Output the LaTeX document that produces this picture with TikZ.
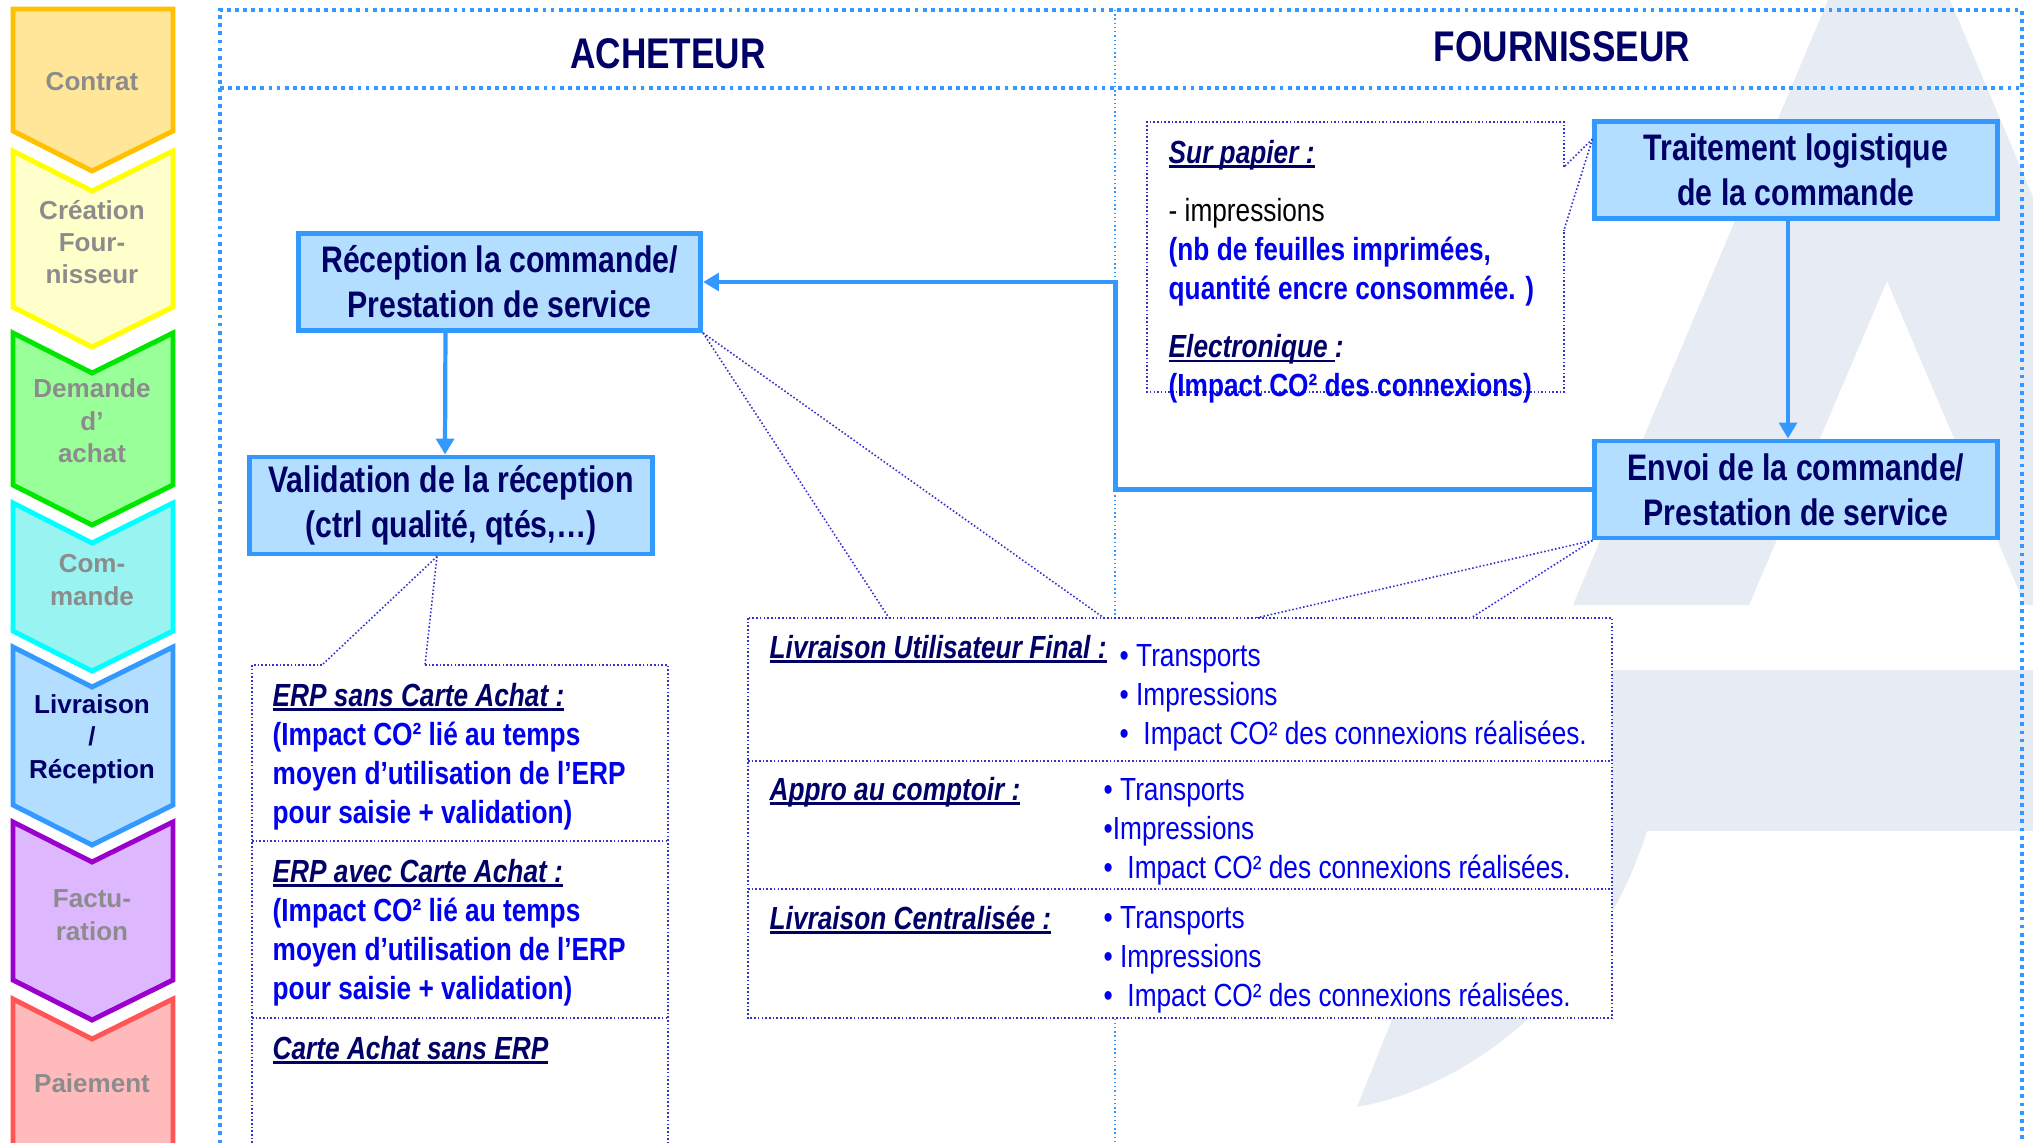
\documentclass[tikz,border=0pt]{standalone}
\usepackage{fontspec}
\setmainfont{Liberation Sans}
\newfontfamily\narrowfont[FakeStretch=0.82]{Liberation Sans}
\usetikzlibrary{arrows.meta}
\definecolor{navy}{HTML}{000066}
\definecolor{skyfill}{HTML}{B3DEFF}
\definecolor{skyline}{HTML}{3399FF}
\definecolor{inkblue}{HTML}{0000EE}
\definecolor{callout}{HTML}{3333CC}
\definecolor{logo}{HTML}{E7ECF4}
\definecolor{greytext}{HTML}{8C8C8C}
\definecolor{contratfill}{HTML}{FFE699}
\definecolor{contratline}{HTML}{FFC000}
\definecolor{creafill}{HTML}{FFFFCC}
\definecolor{crealine}{HTML}{FFFF00}
\definecolor{demfill}{HTML}{99FF99}
\definecolor{demline}{HTML}{00E600}
\definecolor{cmdfill}{HTML}{99F3F0}
\definecolor{cmdline}{HTML}{00FFFF}
\definecolor{factfill}{HTML}{DDB8FF}
\definecolor{factline}{HTML}{9900CC}
\definecolor{paiefill}{HTML}{FFBBBB}
\definecolor{paieline}{HTML}{FF5555}
\newcommand\ulbox[1]{\setbox0=\hbox{#1}\rlap{\rule[-1.3pt]{\wd0}{0.8pt}}\box0}
\newcommand\notehead[1]{{\color{navy}\bfseries\itshape\ulbox{#1}}}
\newcommand\noteblue[1]{{\color{inkblue}\bfseries #1}}
\tikzset{frame/.style={skyline, line width=1.1pt, dash pattern=on 1.1pt off 1.2pt}}
\tikzset{divider/.style={skyline, line width=0.4pt, dash pattern=on 0.4pt off 0.8pt}}
\tikzset{stepbox/.style={draw=skyline, fill=skyfill, line width=1.4pt, minimum width=4.02cm, minimum height=0.97cm, inner sep=0pt, align=center, text=navy, font=\narrowfont\bfseries\fontsize{10.5}{12.8}\selectfont}}
\tikzset{flow/.style={skyline, line width=1.2pt, -{Triangle[length=4.5pt,width=5pt]}}}
\tikzset{note/.style={callout, line width=0.45pt, dash pattern=on 0.45pt off 0.6pt}}
\tikzset{chev/.style={line width=1.4pt}}
\tikzset{phase/.style={align=center, text=greytext, font=\bfseries\fontsize{7.4}{9.2}\selectfont}}
\tikzset{notetext/.style={anchor=west, align=left, inner sep=0pt, font=\narrowfont\fontsize{9.1}{11.1}\selectfont}}
\tikzset{listtext/.style={notetext, text=inkblue}}
\tikzset{head/.style={text=navy, font=\narrowfont\bfseries\fontsize{12.2}{14}\selectfont}}

\begin{document}
\begin{tikzpicture}[x=0.01cm, y=-0.01cm]
\useasboundingbox (0,0) rectangle (2033,1143);
\clip (0,0) rectangle (2033,1143);
\fill[white] (0,0) rectangle (2033,1143);
% logo in the background
\fill[logo, even odd rule] (1573,605) -- (1828,0) -- (1950,0) -- (2033,197) -- (2033,605) -- cycle
  (1749,605) -- (1887,281) -- (2025,605) -- cycle;
\fill[logo] (1500,670) rectangle (2033,831);
\fill[logo] (1357,1107) -- (1532,670) -- (1700,670) -- (1647,831) .. controls (1600,980) and (1480,1085) .. (1357,1107) -- cycle;

% phases
\filldraw[chev, fill=contratfill, draw=contratline] (13,9) -- (173,9) -- (173,131) -- (92,171) -- (13,131) -- cycle;
\filldraw[chev, fill=creafill, draw=crealine] (13,151) -- (92,191) -- (173,151) -- (173,307) -- (92,347) -- (13,307) -- cycle;
\filldraw[chev, fill=demfill, draw=demline] (13,333) -- (92,373) -- (173,333) -- (173,485) -- (92,525) -- (13,485) -- cycle;
\filldraw[chev, fill=cmdfill, draw=cmdline] (13,503) -- (92,543) -- (173,503) -- (173,631) -- (92,671) -- (13,631) -- cycle;
\filldraw[chev, fill=skyfill, draw=skyline] (13,647) -- (92,687) -- (173,647) -- (173,805) -- (92,845) -- (13,805) -- cycle;
\filldraw[chev, fill=factfill, draw=factline] (13,822) -- (92,862) -- (173,822) -- (173,980) -- (92,1020) -- (13,980) -- cycle;
\filldraw[chev, fill=paiefill, draw=paieline] (13,999) -- (92,1039) -- (173,999) -- (173,1200) -- (13,1200) -- cycle;
\node[phase] (contrat) at (92,82) {Contrat};
\node[phase] (creation) at (92,242) {Création\\Four-\\nisseur};
\node[phase] (demande) at (92,421) {Demande\\d’\\achat};
\node[phase] (commande) at (92,580) {Com-\\mande};
\node[phase, text=navy] (livraison) at (92,739) {Livraison\\/\\Réception};
\node[phase] (facturation) at (92,915) {Factu-\\ration};
\node[phase] (paiement) at (92,1083) {Paiement};

% frame and headers
\draw[divider] (1115,10) -- (1115,1200);
\draw[frame] (220,1200) -- (220,10) -- (2022,10) -- (2022,1200);
\draw[frame] (220,88) -- (2022,88);
\node[head] (buyer) at (668,54) {ACHETEUR};
\node[head] (supplier) at (1562,47) {FOURNISSEUR};

% steps
\node[stepbox] (recv) at (499.5,282) {Réception la commande/\\Prestation de service};
\node[stepbox] (valid) at (451,505.5) {Validation de la réception\\(ctrl qualité, qtés,…)};
\node[stepbox] (trait) at (1796,170) {Traitement logistique\\de la commande};
\node[stepbox] (envoi) at (1796,489.5) {Envoi de la commande/\\Prestation de service};
\draw[flow] ([xshift=-0.54cm]recv.south) -- ([xshift=-0.06cm]valid.north);
\draw[flow] ([xshift=-0.08cm]trait.south) -- ([xshift=-0.08cm]envoi.north);
\draw[flow] (envoi.west) -- ++(-477,0) |- (recv.east);

% note on paper / electronic
\coordinate (pap1) at (1564,167);
\coordinate (pap2) at (1564,230);
\draw[note] (pap1) -- (1564,122) -- (1147,122) -- (1147,392) -- (1564,392) -- (pap2);
\draw[note] ([yshift=-0.2cm]trait.north west) -- (pap1);
\draw[note] ([yshift=-0.2cm]trait.north west) -- (pap2);
\node[notetext] (paper) at (1168,272) {\notehead{Sur papier :}\\[5.4pt]
  - impressions\\
  \noteblue{(nb de feuilles imprimées,}\\
  \noteblue{quantité encre consommée. )}\\[5.4pt]
  {\color{navy}\bfseries\itshape\ulbox{Electronique }:}\\
  \noteblue{(Impact CO² des connexions)}};

% note on ERP
\coordinate (erp1) at (322,665);
\coordinate (erp2) at (425,665);
\draw[note] (erp1) -- (252,665) -- (252,1200);
\draw[note] (erp2) -- (668,665) -- (668,1200);
\draw[note] (252,841) -- (668,841);
\draw[note] (252,1018) -- (668,1018);
\draw[note] ([xshift=-0.14cm]valid.south) -- (erp1);
\draw[note] ([xshift=-0.14cm]valid.south) -- (erp2);
\node[notetext] (erpsans) at (272,757) {\notehead{ERP sans Carte Achat :}\\
  \noteblue{(Impact CO² lié au temps}\\
  \noteblue{moyen d’utilisation de l’ERP}\\
  \noteblue{pour saisie + validation)}};
\node[notetext] (erpavec) at (272,933) {\notehead{ERP avec Carte Achat :}\\
  \noteblue{(Impact CO² lié au temps}\\
  \noteblue{moyen d’utilisation de l’ERP}\\
  \noteblue{pour saisie + validation)}};
\node[notetext] (cartesans) at (272,1050) {\notehead{Carte Achat sans ERP}};

% note on delivery
\coordinate (lst1) at (889,618);
\coordinate (lst2) at (1104,618);
\coordinate (lst3) at (1256,618);
\coordinate (lst4) at (1471,618);
\draw[note] (recv.south east) -- (lst1);
\draw[note] (recv.south east) -- (lst2);
\draw[note] (envoi.south west) -- (lst3);
\draw[note] (envoi.south west) -- (lst4);
\filldraw[note, fill=white] (748,618) rectangle (1612,1018);
\draw[note] (748,761) -- (1612,761);
\draw[note] (748,889) -- (1612,889);
\node[notetext] (final) at (769,649) {\notehead{Livraison Utilisateur Final :}};
\node[notetext] (comptoir) at (769,792) {\notehead{Appro au comptoir :}};
\node[notetext] (central) at (769,920) {\notehead{Livraison Centralisée :}};
\node[listtext] (finallist) at (1119,698) {• Transports\\• Impressions\\•\ \ Impact CO² des connexions réalisées.};
\node[listtext] (comptoirlist) at (1103,832) {• Transports\\•Impressions\\•\ \ Impact CO² des connexions réalisées.};
\node[listtext] (centrallist) at (1103,960) {• Transports\\• Impressions\\•\ \ Impact CO² des connexions réalisées.};
\end{tikzpicture}
\end{document}
